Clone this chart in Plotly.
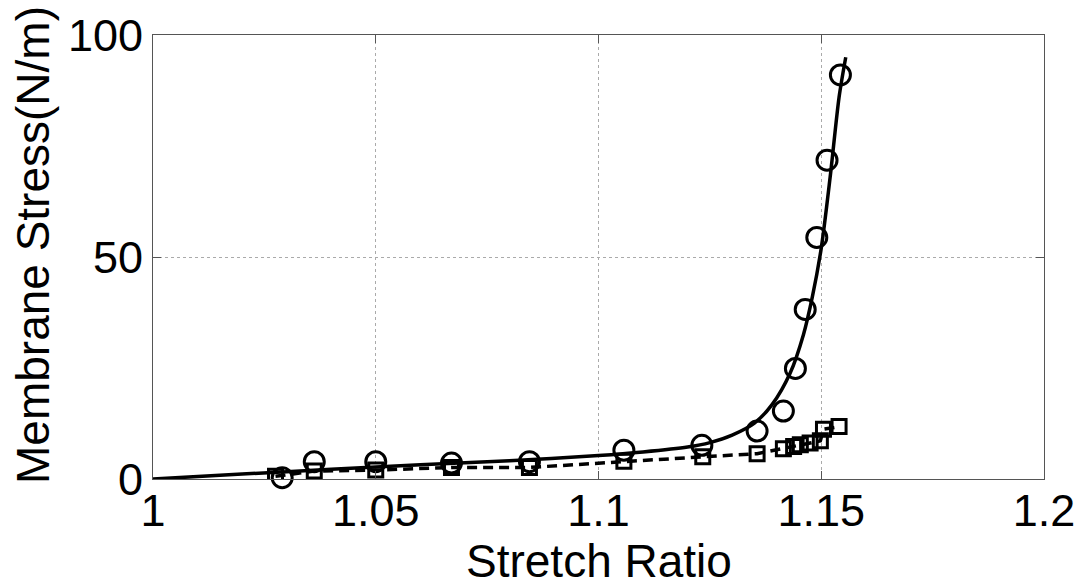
import plotly.graph_objects as go

# Measured data (circles) and model (squares)
circle_x = [1.029, 1.0362, 1.050, 1.067, 1.0845, 1.1057, 1.1232, 1.1356, 1.1415, 1.1442, 1.1464, 1.149, 1.1513, 1.1543]
circle_y = [0.3, 3.9, 3.9, 3.6, 3.9, 6.5, 7.6, 10.8, 15.3, 24.9, 38.2, 54.4, 71.8, 91.0]

square_x = [1.0275, 1.0362, 1.050, 1.067, 1.0845, 1.1057, 1.1234, 1.1356, 1.1415, 1.1438, 1.1453, 1.1475, 1.1498, 1.1505, 1.1540]
square_y = [0.6, 1.8, 2.0, 2.6, 2.6, 4.0, 5.0, 5.7, 6.8, 7.3, 7.7, 8.1, 8.6, 11.2, 11.8]

fit_x = [1.0, 1.02, 1.04, 1.06, 1.08, 1.10, 1.11, 1.12, 1.125, 1.13, 1.135, 1.139, 1.143, 1.146, 1.148, 1.150, 1.152, 1.154, 1.1555]
fit_y = [0, 1.1, 2.2, 3.2, 4.1, 5.3, 6.1, 7.2, 8.2, 9.9, 12.6, 16.8, 23.8, 32.5, 41, 52, 68, 86, 95]

x_ticks = [1, 1.05, 1.1, 1.15, 1.2]
x_tick_text = ["1", "1.05", "1.1", "1.15", "1.2"]
y_ticks = [0, 50, 100]
y_tick_text = ["0", "50", "100"]

x_title = "Stretch Ratio"
y_title = "Membrane Stress(N/m)"

FONT = "Liberation Sans, Arial, sans-serif"

fig = go.Figure()
fig.add_trace(go.Scatter(x=fit_x, y=fit_y, mode="lines",
                         line=dict(color="black", width=3.5, shape="spline", smoothing=0.8),
                         showlegend=False, hoverinfo="skip"))
fig.add_trace(go.Scatter(x=square_x, y=square_y, mode="lines+markers",
                         line=dict(color="black", width=3.5, dash="10px,6px"),
                         marker=dict(symbol="square-open", size=14, color="black",
                                     line=dict(color="black", width=3)),
                         showlegend=False))
fig.add_trace(go.Scatter(x=circle_x, y=circle_y, mode="markers",
                         marker=dict(symbol="circle-open", size=20, color="black",
                                     line=dict(color="black", width=3)),
                         showlegend=False, cliponaxis=False))

axis_common = dict(
    showline=True, linecolor="#555555", linewidth=1, mirror="ticks",
    ticks="inside", ticklen=8, tickcolor="#555555", tickwidth=1,
    showgrid=True, gridcolor="#aaaaaa", griddash="dot", gridwidth=1,
    zeroline=False, automargin=False,
    tickfont=dict(family=FONT, size=45, color="black"),
)

fig.update_xaxes(range=[1, 1.2], tickvals=x_ticks, ticktext=x_tick_text,
                 ticklabelstandoff=-8, **axis_common)
fig.update_yaxes(range=[0, 100], tickvals=y_ticks, ticktext=y_tick_text,
                 **axis_common)

fig.add_annotation(text=x_title, xref="paper", yref="paper", x=0.5, y=-0.185,
                   xanchor="center", yanchor="middle", showarrow=False,
                   font=dict(family=FONT, size=46, color="black"))
fig.add_annotation(text=y_title, xref="paper", yref="paper", x=-0.1347, y=0.527,
                   xanchor="center", yanchor="middle", showarrow=False, textangle=-90,
                   font=dict(family=FONT, size=46, color="black"))

fig.update_layout(
    width=1079, height=586,
    margin=dict(l=153, r=35, t=35, b=107),
    paper_bgcolor="white", plot_bgcolor="white",
    showlegend=False,
)

fig.write_html("out.html", config={"displayModeBar": False},
               post_script="document.body.style.margin='0';document.body.style.overflow='hidden';")
